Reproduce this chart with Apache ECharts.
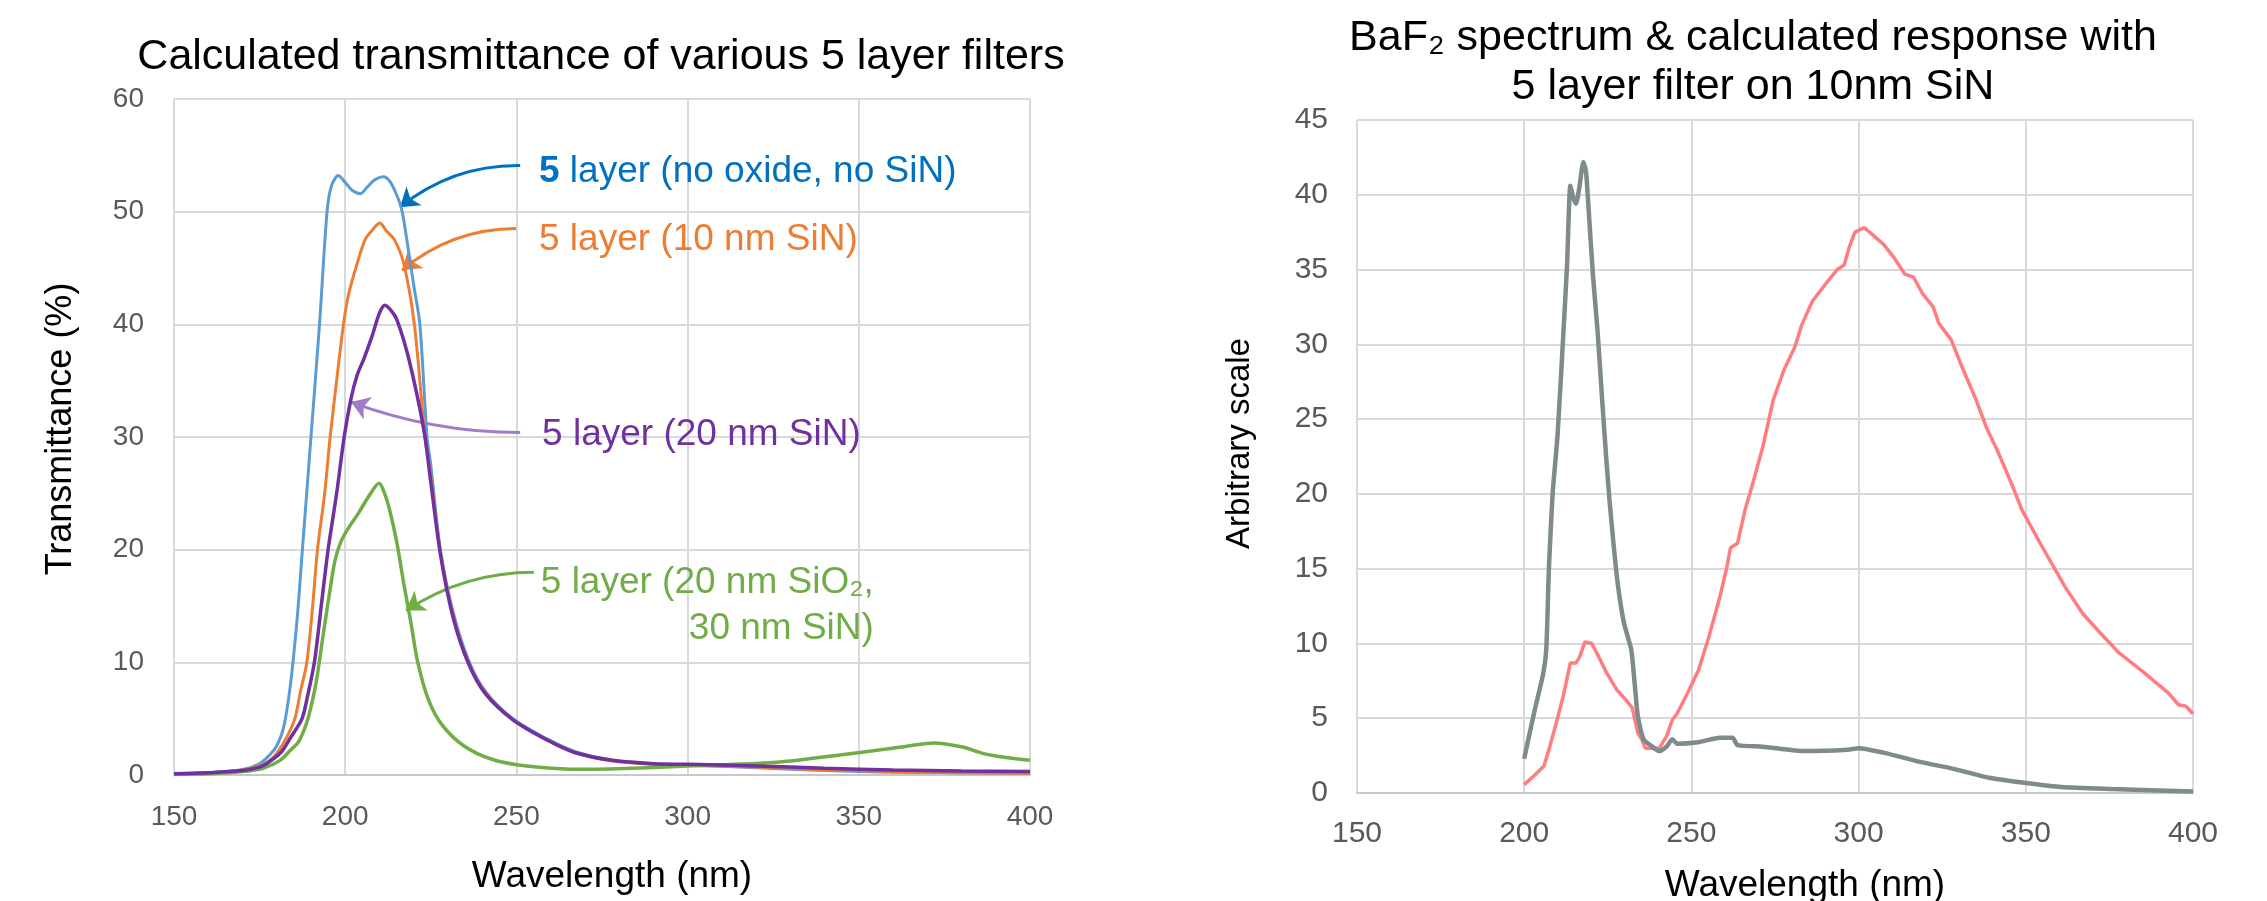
<!DOCTYPE html>
<html style="height: 100%">
<head>
	<meta charset="utf-8">
</head>
<body style="height: 100%; margin: 0; background: #fff">
	<div id="container" style="height: 100%"></div>
	<script src="https://cdn.jsdelivr.net/npm/echarts@6/dist/echarts.min.js"></script>
	<script type="text/javascript">
		// axes
		var wlMin = 150, wlMax = 400, wlStep = 50;
		var tMax = 60, tStep = 10;     // left: transmittance (%)
		var aMax = 45, aStep = 5;      // right: arbitrary scale

		// left chart: 5 layer (no oxide, no SiN)
		var wlNoOx = [150, 160, 170, 175, 178, 180, 182, 184, 186, 187.5, 190, 192.5, 194.7, 196, 198, 200, 202, 204.4, 206.5, 208.5, 211.2, 213, 215, 216.5, 218, 220, 221.8, 223.9, 225, 227.8, 231.5, 236, 241, 249, 259, 267, 278, 290, 300, 320, 340, 360, 380, 400];
		var tNoOx = [0.1, 0.2, 0.5, 1.0, 1.8, 2.6, 4.2, 8, 14, 20, 30, 40, 50, 52.3, 53.2, 52.6, 51.9, 51.6, 52.2, 52.8, 53.1, 52.7, 51.5, 50.2, 47.5, 43.5, 40, 30, 27.5, 20, 14.5, 10.2, 7.4, 5, 3.2, 2.1, 1.3, 1.0, 0.9, 0.65, 0.4, 0.25, 0.2, 0.15];
		// 5 layer (10 nm SiN)
		var wl10 = [150, 160, 170, 175, 178, 180.2, 183, 185.3, 187, 188.8, 190.5, 191.9, 194, 195.6, 197.5, 199.5, 201.1, 203.8, 205.8, 208, 210.1, 212, 214.4, 217.1, 220.2, 223.3, 225, 227.8, 231.5, 236, 241, 249, 259, 267, 278, 290, 300, 320, 340, 360, 380, 400];
		var t10 = [0.1, 0.2, 0.45, 0.8, 1.3, 2, 3.4, 5, 7.5, 10, 15, 20, 25, 30, 35, 40, 42.8, 45.7, 47.5, 48.4, 49, 48.3, 47.5, 45.4, 40, 30, 26.5, 19.8, 14.2, 10, 7.3, 4.9, 3.1, 2.0, 1.25, 0.95, 0.85, 0.7, 0.45, 0.3, 0.2, 0.15];
		// 5 layer (20 nm SiN)
		var wl20 = [150, 160, 170, 175, 177, 181.2, 184, 187.4, 189, 191, 193, 195, 197.5, 199.7, 201.7, 203.5, 205.4, 207.9, 210, 211.6, 213.5, 215.1, 218.1, 221.2, 223.3, 225, 227.8, 231.5, 236, 241, 249, 259, 267, 278, 290, 300, 320, 340, 360, 380, 400];
		var t20 = [0.1, 0.2, 0.4, 0.7, 1, 2, 3.3, 5, 7, 10, 15, 20, 25, 30, 33.4, 35.5, 36.9, 39, 41, 41.7, 41.2, 40.4, 37.5, 33.4, 30, 26, 19.6, 14, 9.9, 7.2, 4.9, 3.1, 2.0, 1.3, 1.0, 0.95, 0.8, 0.6, 0.45, 0.35, 0.3];
		// 5 layer (20 nm SiO2, 30 nm SiN)
		var wlOx = [150, 160, 170, 176, 181, 184, 186.3, 188, 189.4, 191.5, 193.5, 195.6, 197, 198.6, 200.7, 203.8, 206.8, 209.9, 211.5, 213, 215.1, 217.1, 219.2, 221.2, 224.3, 228.4, 234.6, 242.8, 253, 269.5, 284, 300, 325, 345, 358, 365, 372, 380, 386.5, 393, 400];
		var tOx = [0.05, 0.1, 0.3, 0.6, 1.3, 2.2, 2.9, 4, 5.3, 8.2, 12.3, 16.5, 19, 20.6, 21.8, 23.2, 24.7, 25.9, 25, 23.5, 20.6, 17, 13.5, 10, 6.7, 4.4, 2.6, 1.4, 0.8, 0.5, 0.6, 0.8, 1.1, 1.8, 2.3, 2.6, 2.85, 2.5, 1.9, 1.55, 1.3];

		// right chart: BaF2 spectrum
		var wlBaF2 = [200, 203.2, 205.7, 206.6, 207.4, 208.5, 210, 211.7, 212.8, 213.8, 214.7, 215.5, 216.5, 217.7, 218.5, 219.1, 220.6, 221.9, 223.4, 224.5, 225.5, 227.7, 229.8, 232, 233, 234, 235.7, 238.3, 240.4, 242.6, 244.3, 245.7, 252, 258.5, 262.3, 263.8, 271.3, 284, 296.8, 300, 307.4, 318, 328.7, 339.4, 350, 360.6, 375.5, 400];
		var vBaF2 = [2.3, 5.6, 8.0, 9.6, 15.1, 20, 24, 30.7, 35.2, 40.6, 39.8, 39.4, 40.5, 42.2, 41.5, 39.6, 34.5, 31, 26, 22.5, 19.6, 14.5, 11.4, 9.6, 7.4, 5.1, 3.6, 3.1, 2.8, 3.1, 3.6, 3.3, 3.4, 3.7, 3.7, 3.2, 3.1, 2.8, 2.9, 3.0, 2.7, 2.1, 1.6, 1.0, 0.67, 0.4, 0.27, 0.1];
		// calculated response
		var wlResp = [200, 203.2, 205.9, 207.4, 209.6, 211.7, 213.8, 215.5, 216.6, 218.1, 220.2, 222.3, 224.5, 227.7, 230.9, 232.3, 234, 235.1, 236.2, 238.3, 240.4, 242.6, 244.3, 245.7, 248.9, 252.1, 255.3, 258.5, 260.6, 261.7, 263.8, 266, 268.1, 271.3, 274.5, 277.7, 280.9, 283, 286.2, 290, 293.6, 295.7, 297.2, 298.9, 301.7, 304.3, 307.4, 310.6, 313.8, 316.4, 319.1, 322.3, 324, 327.7, 330.9, 335.1, 338.3, 341.5, 345.7, 348.9, 354.3, 361.7, 367, 372.3, 377.7, 385.1, 392.6, 395.7, 397.9, 400];
		var vResp = [0.56, 1.2, 1.8, 2.9, 4.7, 6.5, 8.7, 8.7, 9.1, 10.1, 10.0, 9.1, 8.1, 6.9, 6.1, 5.7, 4.0, 3.6, 3.0, 3.0, 3.0, 3.8, 4.9, 5.3, 6.7, 8.2, 10.5, 13.1, 15.1, 16.4, 16.7, 18.9, 20.5, 23.1, 26.3, 28.3, 29.8, 31.3, 32.9, 34, 35, 35.3, 36.5, 37.5, 37.8, 37.3, 36.7, 35.8, 34.7, 34.5, 33.4, 32.5, 31.4, 30.3, 28.5, 26.3, 24.4, 22.9, 20.7, 18.9, 16.7, 13.8, 12.0, 10.7, 9.4, 8.1, 6.7, 5.9, 5.8, 5.3];

		// callouts (data coords of label anchors and arrow ends)
		var labelAnchors = [[256.6, 53.5], [256.6, 47.5], [257.5, 30.2], [354.4, 15.0]];
		var arrowEnds = [
			[[251.1, 54.1], [216.0, 50.4]],
			[[249.9, 48.5], [216.6, 44.8]],
			[[251.1, 30.4], [201.7, 33.1]],
			[[255.1, 18.0], [217.8, 14.6]]
		];

		function pairs(xs, ys) {
			return xs.map(function(x, i) { return [x, ys[i]]; });
		}

		var FONT = '"Liberation Sans", Arial, sans-serif';
		var BLUE = '#0070C0', ORANGE = '#ED7D31', PURPLE = '#7030A0', GREEN = '#70AD47';

		var dom = document.getElementById("container");
		var myChart = echarts.init(dom);

		function xAx(idx, lblSize, lblMargin, nameGap, namePad) {
			return {
				type: 'value', gridIndex: idx, min: wlMin, max: wlMax, interval: wlStep,
				axisLine: { lineStyle: { color: '#C8C8C8', width: 2 } },
				axisTick: { show: false },
				axisLabel: { fontSize: lblSize, color: '#595959', fontFamily: FONT, margin: lblMargin },
				splitLine: { show: true, lineStyle: { color: '#D9D9D9', width: 2 } },
				name: 'Wavelength (nm)', nameLocation: 'middle', nameGap: nameGap,
				nameTextStyle: { fontSize: 37, color: '#000', fontFamily: FONT, padding: [0, 0, 0, namePad] }
			};
		}
		function yAx(idx, max, step, lblSize, lblMargin, name, nameSize, nameGap, namePad) {
			return {
				type: 'value', gridIndex: idx, min: 0, max: max, interval: step,
				axisLine: { show: false },
				axisTick: { show: false },
				axisLabel: { fontSize: lblSize, color: '#595959', fontFamily: FONT, margin: lblMargin },
				splitLine: { show: true, lineStyle: { color: '#D9D9D9', width: 2 } },
				name: name, nameLocation: 'middle', nameGap: nameGap, nameRotate: 90,
				nameTextStyle: { fontSize: nameSize, color: '#000', fontFamily: FONT, padding: [0, 0, 0, namePad] }
			};
		}
		function curve(data, color, width, xi) {
			return {
				type: 'line', xAxisIndex: xi, yAxisIndex: xi, data: data,
				showSymbol: false, smooth: 0.3, silent: true,
				lineStyle: { color: color, width: width, opacity: 1 }
			};
		}
		function callout(pos, text, color, side, rich) {
			return {
				value: pos,
				itemStyle: { opacity: 0 },
				label: {
					show: true, position: side, distance: 0, formatter: text, opacity: 1,
					color: color, fontSize: 37, fontFamily: FONT, lineHeight: 46,
					align: side === 'left' ? 'right' : 'left', rich: rich || {}
				}
			};
		}
		function arrow(ends, color, curv) {
			return { coords: ends, lineStyle: { color: color, width: 3, opacity: 1, curveness: curv } };
		}

		var option = {
			backgroundColor: '#fff',
			animation: false,
			title: [{
				text: 'Calculated transmittance of various 5 layer filters',
				left: 601, top: 34, textAlign: 'center', padding: 0,
				textStyle: { fontSize: 43, fontWeight: 'normal', color: '#000', fontFamily: FONT, lineHeight: 46 }
			}, {
				text: 'BaF\u2082 spectrum & calculated response with\n5 layer filter on 10nm SiN',
				left: 1753, top: 14, textAlign: 'center', padding: 0,
				textStyle: { fontSize: 43, fontWeight: 'normal', color: '#000', fontFamily: FONT, lineHeight: 49 }
			}],
			grid: [
				{ left: 174, top: 99, width: 856, height: 676, outerBoundsMode: 'none' },
				{ left: 1357, top: 120, width: 836, height: 673, outerBoundsMode: 'none' }
			],
			xAxis: [xAx(0, 28, 28, 83, 20), xAx(1, 30, 26, 74, 60)],
			yAxis: [
				yAx(0, tMax, tStep, 28, 30, 'Transmittance (%)', 36, 95, 16),
				yAx(1, aMax, aStep, 30, 29, 'Arbitrary scale', 33, 101, 26)
			],
			series: [
				curve(pairs(wlNoOx, tNoOx), '#5B9BD5', 3, 0),
				curve(pairs(wl10, t10), ORANGE, 3, 0),
				curve(pairs(wlOx, tOx), GREEN, 3.5, 0),
				curve(pairs(wl20, t20), PURPLE, 3.5, 0),
				{
					type: 'lines', coordinateSystem: 'cartesian2d', xAxisIndex: 0, yAxisIndex: 0,
					symbol: ['none', 'arrow'], symbolSize: 18, silent: true,
					data: [
						arrow(arrowEnds[0], BLUE, -0.18),
						arrow(arrowEnds[1], ORANGE, -0.18),
						arrow(arrowEnds[2], '#A07CC8', 0.09),
						arrow(arrowEnds[3], GREEN, -0.15)
					]
				},
				{
					type: 'scatter', xAxisIndex: 0, yAxisIndex: 0, symbolSize: 0, silent: true,
					itemStyle: { opacity: 1 },
					data: [
						callout(labelAnchors[0], '{b|5} layer (no oxide, no SiN)', BLUE, 'right',
							{ b: { fontWeight: 'bold', color: BLUE, fontSize: 37, fontFamily: FONT } }),
						callout(labelAnchors[1], '5 layer (10 nm SiN)', ORANGE, 'right'),
						callout(labelAnchors[2], '5 layer (20 nm SiN)', PURPLE, 'right'),
						callout(labelAnchors[3], '5 layer (20 nm SiO\u2082,\n30 nm SiN)', GREEN, 'left')
					]
				},
				Object.assign(curve(pairs(wlResp, vResp), '#FF7C80', 3.5, 1), { smooth: false }),
				Object.assign(curve(pairs(wlBaF2, vBaF2), '#7F8A8B', 4.5, 1), { smooth: 0.2 })
			]
		};

		myChart.setOption(option);
	</script>
</body>
</html>
